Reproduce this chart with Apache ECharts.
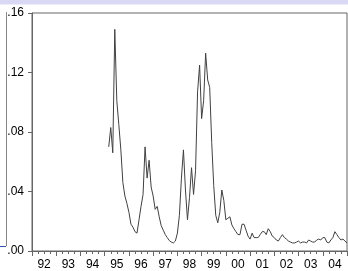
<!DOCTYPE html>
<html>
<head>
<meta charset="utf-8">
<script src="https://cdn.jsdelivr.net/npm/echarts@6/dist/echarts.min.js"></script>
<style>
	html, body { margin: 0; padding: 0; background: #fff; }
	#chart { width: 348px; height: 271px; }
</style>
</head>
<body>
<div id="chart"></div>
<script>
	// year labels under the axis (centred in each year)
	var years = ['92', '93', '94', '95', '96', '97', '98', '99', '00', '01', '02', '03', '04'];
	var yTicks = [0, 0.04, 0.08, 0.12, 0.16];

	// monthly series, first month = March 1995
	var startYear = 1995;
	var startMonth = 3;
	var values = [
		0.070, 0.083, 0.066, 0.149, 0.101, 0.085, 0.068, 0.046, 0.037, 0.032,
		0.026, 0.018, 0.016, 0.013, 0.012, 0.021, 0.030, 0.038, 0.070, 0.049,
		0.061, 0.043, 0.037, 0.028, 0.030, 0.023, 0.017, 0.014, 0.011, 0.009,
		0.007, 0.006, 0.0054, 0.0067, 0.012, 0.024, 0.049, 0.068, 0.041, 0.021,
		0.036, 0.056, 0.038, 0.054, 0.107, 0.125, 0.089, 0.101, 0.133, 0.115,
		0.110, 0.073, 0.044, 0.024, 0.019, 0.026, 0.041, 0.034, 0.021, 0.022,
		0.023, 0.0175, 0.015, 0.013, 0.011, 0.011, 0.018, 0.018, 0.014, 0.010,
		0.008, 0.012, 0.009, 0.009, 0.009, 0.011, 0.013, 0.013, 0.011, 0.015,
		0.013, 0.010, 0.009, 0.0074, 0.0067, 0.009, 0.011, 0.009, 0.008, 0.0067,
		0.006, 0.0054, 0.0054, 0.006, 0.0067, 0.0054, 0.006, 0.006, 0.0054, 0.0074,
		0.0067, 0.006, 0.006, 0.0074, 0.008, 0.0074, 0.009, 0.009, 0.006, 0.0054,
		0.0074, 0.009, 0.013, 0.011, 0.009, 0.0074, 0.008, 0.0067, 0.0054
	];

	var seriesData = [];
	for (var i = 0; i < values.length; i++) {
		seriesData.push([startYear + (startMonth - 1 + i) / 12, values[i]]);
	}

	var myChart = echarts.init(document.getElementById('chart'));
	var option = {
		animation: false,
		textStyle: {
			fontFamily: 'Liberation Sans, Arial, sans-serif'
		},
		grid: {
			left: 32,
			top: 13,
			right: 1,
			bottom: 20,
			show: true,
			borderColor: '#666',
			borderWidth: 1
		},
		// window bits around the picture
		graphic: [{
			type: 'rect',
			shape: { x: 0, y: 0, width: 348, height: 4.5 },
			style: { fill: '#d9d9f3' }
		}, {
			type: 'line',
			shape: { x1: 6.5, y1: 12, x2: 6.5, y2: 246 },
			style: { stroke: '#888', lineWidth: 1 }
		}, {
			type: 'line',
			shape: { x1: 0, y1: 246.5, x2: 6, y2: 246.5 },
			style: { stroke: '#3355bb', lineWidth: 1 }
		}],
		xAxis: [{
			type: 'value',
			min: 1992,
			max: 2005,
			interval: 1,
			axisLine: { show: true, lineStyle: { color: '#666' } },
			axisTick: { show: true, length: 5, lineStyle: { color: '#666' } },
			minorTick: { show: true, splitNumber: 4, length: 3, lineStyle: { color: '#666' } },
			axisLabel: { show: false },
			splitLine: { show: false }
		}, {
			type: 'category',
			position: 'bottom',
			data: years,
			boundaryGap: true,
			axisLine: { show: false },
			axisTick: { show: false },
			axisLabel: { margin: 8, fontSize: 12, color: '#000', interval: 0 },
			splitLine: { show: false }
		}],
		yAxis: {
			type: 'value',
			min: yTicks[0],
			max: yTicks[yTicks.length - 1],
			interval: 0.04,
			axisLine: { show: true, lineStyle: { color: '#666' } },
			axisTick: { show: true, length: 4, lineStyle: { color: '#666' } },
			axisLabel: {
				margin: 8,
				fontSize: 12,
				color: '#000',
				formatter: function(v) {
					return v.toFixed(2).replace(/^0/, '');
				}
			},
			splitLine: { show: false }
		},
		series: [{
			type: 'line',
			xAxisIndex: 0,
			data: seriesData,
			showSymbol: false,
			lineStyle: { color: '#404040', width: 1 }
		}]
	};
	myChart.setOption(option);
</script>
</body>
</html>
